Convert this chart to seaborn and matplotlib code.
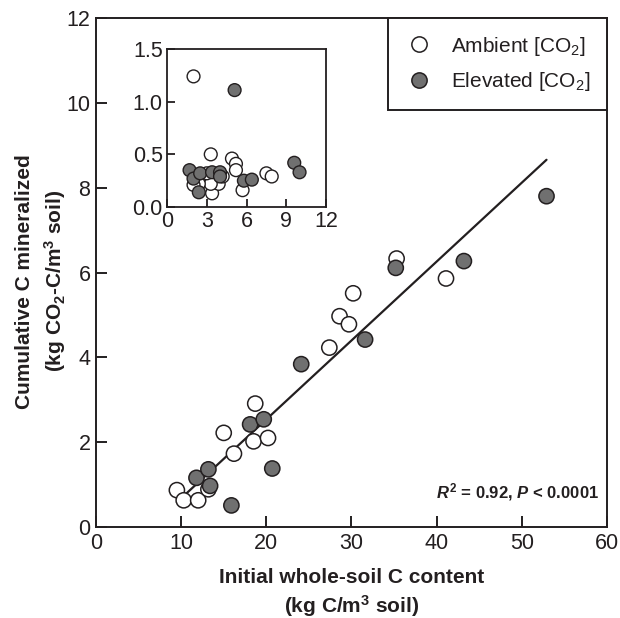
import numpy as np
import pandas as pd
import matplotlib
matplotlib.use('Agg')
import matplotlib.pyplot as plt
import seaborn as sns

# main panel: initial soil C vs cumulative C mineralized
amb_x = [9.5, 10.3, 12.0, 13.2, 15.0, 16.2, 18.5, 18.7, 20.2, 27.4, 28.6, 29.7, 30.2, 35.3, 41.1]
amb_y = [0.87, 0.63, 0.63, 0.89, 2.22, 1.73, 2.02, 2.91, 2.10, 4.23, 4.97, 4.78, 5.51, 6.33, 5.86]
elev_x = [11.8, 13.2, 13.4, 15.9, 18.1, 19.7, 20.7, 24.1, 31.6, 35.2, 43.2, 52.9]
elev_y = [1.16, 1.36, 0.97, 0.51, 2.42, 2.54, 1.38, 3.84, 4.42, 6.11, 6.27, 7.80]

# inset panel
in_amb_x = [2.0, 3.3, 4.9, 5.2, 5.2, 7.5, 7.9, 5.7, 3.4, 2.8, 3.9, 3.3, 2.4, 2.0, 4.2, 3.0]
in_amb_y = [1.24, 0.50, 0.46, 0.41, 0.35, 0.32, 0.29, 0.16, 0.13, 0.29, 0.22, 0.22, 0.22, 0.21, 0.29, 0.32]
in_elev_x = [1.7, 2.0, 2.4, 2.5, 3.4, 4.0, 4.0, 5.1, 5.8, 6.4, 9.6, 10.0]
in_elev_y = [0.35, 0.27, 0.14, 0.32, 0.33, 0.33, 0.29, 1.11, 0.25, 0.26, 0.42, 0.33]

groups = ['Ambient [CO$_2$]', 'Elevated [CO$_2$]']
x_ticks = [0, 10, 20, 30, 40, 50, 60]
y_ticks = [0, 2, 4, 6, 8, 10, 12]
in_x_ticks = [0, 3, 6, 9, 12]
in_y_ticks = [0.0, 0.5, 1.0, 1.5]

df = pd.DataFrame({'x': amb_x + elev_x, 'y': amb_y + elev_y,
                   'grp': [groups[0]] * len(amb_x) + [groups[1]] * len(elev_x)})
df_in = pd.DataFrame({'x': in_amb_x + in_elev_x, 'y': in_amb_y + in_elev_y,
                      'grp': [groups[0]] * len(in_amb_x) + [groups[1]] * len(in_elev_x)})

sns.set_style('ticks')
plt.rcParams['font.family'] = ['Liberation Sans', 'DejaVu Sans']
plt.rcParams['mathtext.fontset'] = 'custom'
plt.rcParams['mathtext.rm'] = 'Liberation Sans'
plt.rcParams['mathtext.it'] = 'Liberation Sans:italic:bold'
plt.rcParams['mathtext.bf'] = 'Liberation Sans:bold'

ink = '#231f20'
pal = {groups[0]: 'white', groups[1]: '#707070'}

fig = plt.figure(figsize=(6.2, 6.18), dpi=100)
ax = fig.add_axes([0.1548, 0.1472, 0.8242, 0.8236])

sns.regplot(data=df, x='x', y='y', scatter=False, ci=None, truncate=True,
            line_kws={'color': ink, 'lw': 1.6}, ax=ax)
sns.scatterplot(data=df, x='x', y='y', hue='grp', palette=pal, s=120,
                edgecolor=ink, linewidth=1.1, ax=ax, zorder=3)

ax.set_xlim(0, 60)
ax.set_ylim(0, 12)
ax.set_xticks(x_ticks)
ax.set_yticks(y_ticks)
ax.tick_params(direction='in', length=8, width=1.4, labelsize=15.5, colors=ink, pad=4)
for sp in ax.spines.values():
    sp.set_linewidth(1.4)
    sp.set_color(ink)

ax.set_xlabel('Initial whole-soil C content\n(kg C/m$^\\mathbf{3}$ soil)',
              fontsize=15, fontweight='bold', color=ink, linespacing=1.3)
ax.set_ylabel('Cumulative C mineralized\n(kg CO$_\\mathbf{2}$-C/m$^\\mathbf{3}$ soil)',
              fontsize=15, fontweight='bold', color=ink, linespacing=1.4)
ax.xaxis.set_label_coords(0.5, -0.081)
ax.yaxis.set_label_coords(-0.055, 0.483)

ax.text(0.984, 0.068, '$\\mathit{R}^\\mathbf{2}$ = 0.92, $\\mathit{P}$ < 0.0001',
        transform=ax.transAxes, ha='right', va='center', fontsize=12,
        fontweight='bold', color=ink)

handles, labels = ax.get_legend_handles_labels()
leg = ax.legend(handles, labels, loc='upper right', bbox_to_anchor=(1, 1),
                borderaxespad=0, fontsize=15, frameon=True, fancybox=False,
                edgecolor=ink, framealpha=1, borderpad=0.8, labelspacing=0.6,
                handletextpad=0.8, handlelength=1.45)
leg.get_frame().set_linewidth(1.4)
for h in leg.legend_handles:
    h.set_markersize(11)
    h.set_markeredgecolor(ink)
for t in leg.get_texts():
    t.set_color(ink)

# inset
axi = fig.add_axes([0.2694, 0.665, 0.2565, 0.2557])
sns.scatterplot(data=df_in, x='x', y='y', hue='grp', palette=pal, s=85,
                edgecolor=ink, linewidth=1.0, ax=axi, legend=False, zorder=3)
axi.set_xlim(0, 12)
axi.set_ylim(0, 1.5)
axi.set_xticks(in_x_ticks)
axi.set_yticks(in_y_ticks)
axi.set_yticklabels([f'{v:.1f}' for v in in_y_ticks])
axi.tick_params(direction='in', length=6, width=1.3, labelsize=15.5, colors=ink, pad=3)
axi.set_xlabel('')
axi.set_ylabel('')
for sp in axi.spines.values():
    sp.set_linewidth(1.3)
    sp.set_color(ink)

fig.savefig('out.png', dpi=100)
